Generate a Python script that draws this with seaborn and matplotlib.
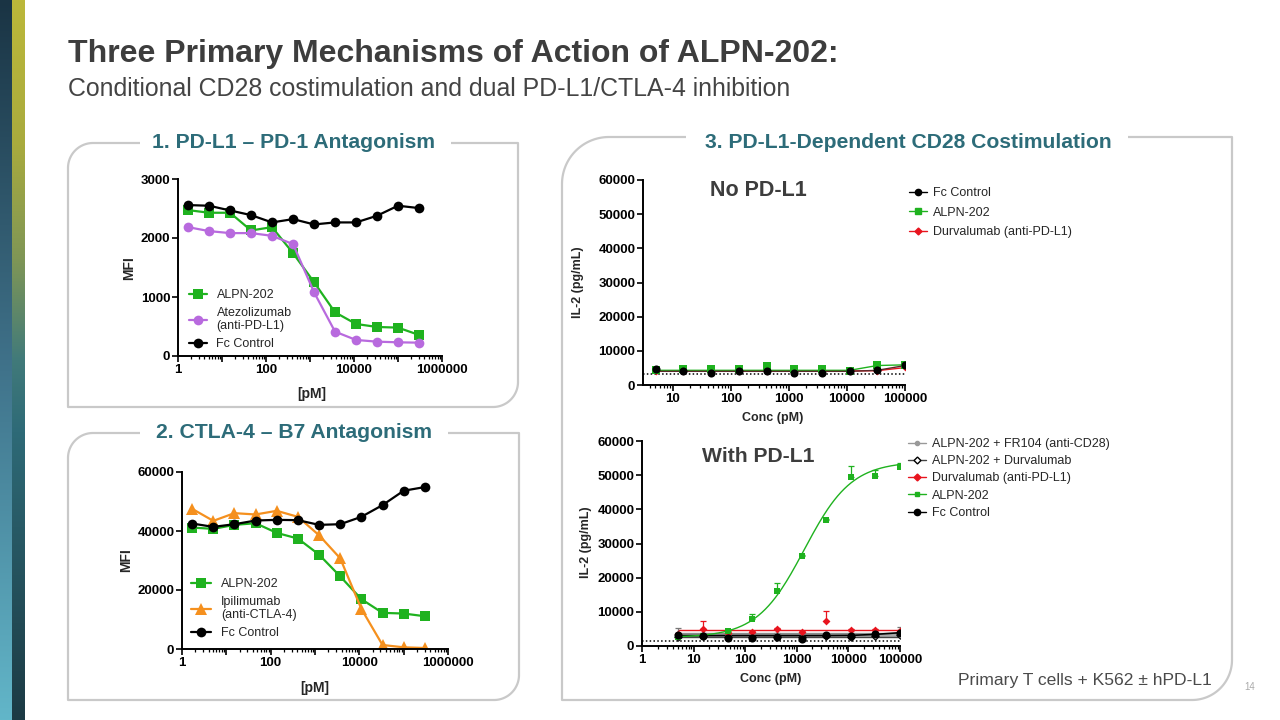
import numpy as np
import pandas as pd
import matplotlib
matplotlib.use("Agg")
import matplotlib.pyplot as plt
import seaborn as sns
from matplotlib.lines import Line2D
from matplotlib.colors import LinearSegmentedColormap
from matplotlib.ticker import FixedLocator, FuncFormatter, LogLocator, NullFormatter

# ---------------- DATA ----------------
conc_left = [1.69, 5.08, 15.2, 45.7, 137, 412, 1235, 3704, 11111, 33333, 100000, 300000]
pd1_alpn = [2473, 2428, 2428, 2128, 2184, 1743, 1251, 741, 543, 492, 481, 357]
pd1_atezo = [2184, 2117, 2083, 2083, 2037, 1896, 1081, 413, 272, 243, 232, 226]
pd1_fc = [2558, 2547, 2467, 2388, 2264, 2320, 2230, 2264, 2264, 2377, 2547, 2507]

ctla_alpn = [41170, 40720, 42080, 42640, 39360, 37430, 31990, 24620, 16900, 12250, 12020, 11110]
ctla_ipi = [47520, 43440, 46050, 45600, 46840, 44800, 38560, 30740, 13610, 1360, 570, 340]
ctla_fc = [42530, 41400, 42300, 43550, 43780, 43670, 42080, 42300, 44800, 48770, 53650, 54890]

conc_right = [5.08, 15.2, 45.7, 137, 412, 1235, 3704, 11111, 33333, 100000]

# No PD-L1
nopd_fc = [4760, 3980, 3390, 4090, 4090, 3390, 3490, 4090, 4380, 5840]
nopd_alpn = [4500, 4760, 4570, 4760, 5640, 4760, 4760, 4200, 5840, 5940]
nopd_durv = [4100, 4000, 3900, 4000, 4100, 3900, 4000, 4000, 4200, 5150]
nopd_fc_fit = [4000, 4000, 4000, 4000, 4000, 4000, 4000, 4000, 4300, 5700]
nopd_alpn_fit = [4300, 4300, 4300, 4300, 4300, 4300, 4300, 4300, 5700, 5900]
nopd_durv_fit = [4100, 4100, 4100, 4100, 4100, 4100, 4100, 4100, 4200, 5100]
nopd_baseline = 3300

# With PD-L1
pdl1_fr104 = [3500, 3400, 3300, 3400, 3500, 3400, 3600, 3500, 3700, 4300]
pdl1_fr104_err = [1800, 300, 300, 300, 300, 300, 300, 300, 300, 1300]
pdl1_alpn_durva = [2700, 2800, 2700, 2600, 2700, 2500, 2800, 2700, 2900, 3300]
pdl1_durv = [3600, 5000, 3800, 4020, 5000, 4220, 7340, 4810, 4810, 4400]
pdl1_durv_err = [300, 2340, 300, 300, 300, 300, 2930, 300, 300, 300]
pdl1_alpn = [2700, 3000, 4310, 7930, 16150, 26320, 36990, 49320, 49800, 52450]
pdl1_alpn_err = [0, 0, 300, 1370, 2150, 300, 300, 3500, 1570, 970]
pdl1_fc = [3340, 3050, 2350, 2350, 2640, 1960, 3340, 2840, 3640, 3910]
pdl1_fc_fit = [3050, 3050, 3050, 3050, 3050, 3050, 3050, 3100, 3400, 3900]
pdl1_durv_fit = [4600, 4600, 4600, 4600, 4600, 4600, 4600, 4600, 4600, 4600]
pdl1_fr104_fit = [3800, 3800, 3800, 3800, 3800, 3800, 3800, 3800, 3800, 3800]
pdl1_alpn_durva_fit = [2700, 2700, 2700, 2700, 2700, 2700, 2700, 2700, 2700, 2700]
pdl1_baseline = 1570
# 4PL fit parameters for ALPN-202 with PD-L1
fit_bottom, fit_top, fit_ec50, fit_hill = 2500, 54000, 1400, 0.95

# ---------------- STYLE ----------------
sns.set_theme(style="ticks")
plt.rcParams['font.family'] = ['Liberation Sans', 'DejaVu Sans']
plt.rcParams['font.weight'] = 'bold'
plt.rcParams['axes.labelweight'] = 'bold'

GREEN = '#1fb21f'
PURPLE = '#b86ade'
ORANGE = '#f5901e'
RED = '#e8141e'
TEAL = '#2d6c79'
GREY_TXT = '#3d3d3d'

W, H = 1280, 720
fig = plt.figure(figsize=(12.8, 7.2), dpi=100)
fig.patch.set_facecolor('white')
bg = fig.add_axes([0, 0, 1, 1], zorder=0)
bg.axis('off')


def grad(stops, n=256):
    cm = LinearSegmentedColormap.from_list('g', stops)
    return cm(np.linspace(0, 1, n))[:, None, :]


bg.imshow(grad([(0, '#1a3444'), (0.5, '#3f7189'), (1, '#62b6c9')]),
          extent=(0, 12, H, 0), aspect='auto', origin='upper')
bg.imshow(grad([(0, '#bcb83a'), (0.2, '#a9ab3e'), (0.36, '#7f9656'), (0.5, '#417a7a'),
                (0.6, '#2e6a77'), (1, '#1c3a44')]),
          extent=(12, 25, H, 0), aspect='auto', origin='upper')
bg.set_xlim(0, W)
bg.set_ylim(H, 0)


def leaf(x0, y0, x1, y1, r1, r2, gap):
    xs, ys = [gap[1], x1, x1], [y0, y0, y1 - r2]
    t = np.linspace(0, np.pi / 2, 30)
    xs += list(x1 - r2 + r2 * np.cos(t)); ys += list(y1 - r2 + r2 * np.sin(t))
    xs += [x0, x0]; ys += [y1, y0 + r1]
    t = np.linspace(np.pi, 1.5 * np.pi, 30)
    xs += list(x0 + r1 + r1 * np.cos(t)); ys += list(y0 + r1 + r1 * np.sin(t))
    xs += [gap[0]]; ys += [y0]
    bg.plot(xs, ys, color='#c9c9c9', lw=1.6, solid_capstyle='butt')


leaf(68, 143, 518, 407, 25, 25, (140, 451))
leaf(68, 433, 519, 700, 25, 25, (140, 448))
leaf(562, 137, 1232, 700, 47, 40, (686, 1128))

bg.text(68, 54, "Three Primary Mechanisms of Action of ALPN-202:", fontsize=23,
        fontweight='bold', color=GREY_TXT, va='center', ha='left')
bg.text(68, 89, "Conditional CD28 costimulation and dual PD-L1/CTLA-4 inhibition", fontsize=17.9,
        fontweight='normal', color='#444444', va='center', ha='left')
bg.text(294, 143, "1. PD-L1 – PD-1 Antagonism", fontsize=15.2, fontweight='bold',
        color=TEAL, va='center', ha='center')
bg.text(294, 432, "2. CTLA-4 – B7 Antagonism", fontsize=15.2, fontweight='bold',
        color=TEAL, va='center', ha='center')
bg.text(908, 142, "3. PD-L1-Dependent CD28 Costimulation", fontsize=15.2, fontweight='bold',
        color=TEAL, va='center', ha='center')
bg.text(1212, 681, "Primary T cells + K562 ± hPD-L1", fontsize=12.6, fontweight='normal',
        color='#4a4a4a', va='center', ha='right')
bg.text(1250, 687, "14", fontsize=7, fontweight='normal', color='#aaaaaa', va='center', ha='center')


def px_axes(l, t, r, b):
    ax = fig.add_axes([l / W, 1 - b / H, (r - l) / W, (b - t) / H], zorder=2)
    ax.set_facecolor('none')
    ax._px = (l, t, r, b)
    return ax


def label_at(ax, axis, x, y):
    l, t, r, b = ax._px
    getattr(ax, axis + 'axis').set_label_coords((x - l) / (r - l), (b - y) / (b - t))


def style(ax, xmin, xmax, ymax, ystep, xlabel_every2):
    ax.set_xscale('log')
    ax.set_xlim(xmin, xmax)
    ax.set_ylim(0, ymax)
    sns.despine(ax=ax)
    for s in ['left', 'bottom']:
        ax.spines[s].set_linewidth(1.4)
        ax.spines[s].set_color('black')
    ax.xaxis.set_major_locator(LogLocator(base=10, numticks=20))
    ax.xaxis.set_minor_locator(LogLocator(base=10, subs=np.arange(2, 10), numticks=100))
    ax.xaxis.set_minor_formatter(NullFormatter())
    if xlabel_every2:
        fmt = lambda v, p: f"{int(round(v))}" if int(round(np.log10(v))) % 2 == 0 else ""
    else:
        fmt = lambda v, p: f"{int(round(v))}"
    ax.xaxis.set_major_formatter(FuncFormatter(fmt))
    ax.yaxis.set_major_locator(FixedLocator(np.arange(0, ymax + 1, ystep)))
    ax.yaxis.set_major_formatter(FuncFormatter(lambda v, p: f"{int(v)}"))
    ax.tick_params(which='major', direction='out', length=4, width=1.2, labelsize=9.5,
                   pad=1.5, colors='black')
    ax.tick_params(which='minor', direction='out', length=2.5, width=0.9, colors='black')
    ax.grid(False)


# ---------------- Panel 1 ----------------
ax1 = px_axes(178, 179, 442, 356)
style(ax1, 1, 1e6, 3000, 1000, True)
lw, ms = 1.6, 6.5
sns.lineplot(x=conc_left, y=pd1_alpn, ax=ax1, color=GREEN, marker='s', markersize=ms,
             markeredgewidth=0, linewidth=lw, label='ALPN-202', sort=False, errorbar=None)
sns.lineplot(x=conc_left, y=pd1_atezo, ax=ax1, color=PURPLE, marker='o', markersize=ms + 0.5,
             markeredgewidth=0, linewidth=lw, label='Atezolizumab\n(anti-PD-L1)', sort=False, errorbar=None)
sns.lineplot(x=conc_left, y=pd1_fc, ax=ax1, color='black', marker='o', markersize=ms + 0.5,
             markeredgewidth=0, linewidth=lw, label='Fc Control', sort=False, errorbar=None)
ax1.set_xlabel('[pM]', fontsize=10)
ax1.set_ylabel('MFI', fontsize=10)
label_at(ax1, 'x', 312, 387)
label_at(ax1, 'y', 136, 268)
ax1.legend(loc='upper left', bbox_to_anchor=(189 / W, 1 - 289 / H), bbox_transform=fig.transFigure,
           frameon=False, borderpad=0, borderaxespad=0, handlelength=1.4, handletextpad=0.8,
           labelspacing=0.45, prop={'size': 9, 'weight': 'normal'})

# ---------------- Panel 2 ----------------
ax2 = px_axes(182, 472, 448, 649)
style(ax2, 1, 1e6, 60000, 20000, True)
sns.lineplot(x=conc_left, y=ctla_alpn, ax=ax2, color=GREEN, marker='s', markersize=ms,
             markeredgewidth=0, linewidth=lw, label='ALPN-202', sort=False, errorbar=None)
sns.lineplot(x=conc_left, y=ctla_ipi, ax=ax2, color=ORANGE, marker='^', markersize=ms + 1.5,
             markeredgewidth=0, linewidth=lw, label='Ipilimumab\n(anti-CTLA-4)', sort=False, errorbar=None)
sns.lineplot(x=conc_left, y=ctla_fc, ax=ax2, color='black', marker='o', markersize=ms + 0.5,
             markeredgewidth=0, linewidth=lw, label='Fc Control', sort=False, errorbar=None)
ax2.set_xlabel('[pM]', fontsize=10)
ax2.set_ylabel('MFI', fontsize=10)
label_at(ax2, 'x', 315, 681)
label_at(ax2, 'y', 133, 560)
ax2.legend(loc='upper left', bbox_to_anchor=(191 / W, 1 - 578 / H), bbox_transform=fig.transFigure,
           frameon=False, borderpad=0, borderaxespad=0, handlelength=1.6, handletextpad=0.8,
           labelspacing=0.45, prop={'size': 9, 'weight': 'normal'})

# ---------------- Panel 3a: No PD-L1 ----------------
ax3 = px_axes(643, 180, 905, 385)
style(ax3, 3.07, 1e5, 60000, 10000, False)
ax3.axhline(nopd_baseline, color='black', lw=1.1, ls=(0, (1, 1.5)))
sns.lineplot(x=conc_right, y=nopd_durv_fit, ax=ax3, color=RED, linewidth=1.0, errorbar=None)
sns.lineplot(x=conc_right, y=nopd_alpn_fit, ax=ax3, color=GREEN, linewidth=1.0, errorbar=None)
sns.lineplot(x=conc_right, y=nopd_fc_fit, ax=ax3, color='#5a2a2a', linewidth=1.0, errorbar=None)
sns.scatterplot(x=conc_right, y=nopd_durv, ax=ax3, color=RED, marker='D', s=16, linewidth=0, zorder=3)
sns.scatterplot(x=conc_right, y=nopd_alpn, ax=ax3, color=GREEN, marker='s', s=28, linewidth=0, zorder=3)
sns.scatterplot(x=conc_right, y=nopd_fc, ax=ax3, color='black', marker='o', s=34, linewidth=0, zorder=4)
ax3.set_xlabel('Conc (pM)', fontsize=9)
ax3.set_ylabel('IL-2 (pg/mL)', fontsize=9)
label_at(ax3, 'x', 773, 412)
label_at(ax3, 'y', 584, 282)
bg.text(758, 190, 'No PD-L1', fontsize=15.5, fontweight='bold', color=GREY_TXT, ha='center', va='center')
h3 = [Line2D([], [], color='black', marker='o', ms=4.5, lw=1),
      Line2D([], [], color=GREEN, marker='s', ms=4, lw=1),
      Line2D([], [], color=RED, marker='D', ms=3.5, lw=1)]
ax3.legend(h3, ['Fc Control', 'ALPN-202', 'Durvalumab (anti-PD-L1)'], loc='upper left',
           bbox_to_anchor=(909 / W, 1 - 187 / H), bbox_transform=fig.transFigure, frameon=False,
           borderpad=0, borderaxespad=0, handlelength=1.4, handletextpad=0.5, labelspacing=0.6,
           prop={'size': 9, 'weight': 'normal'})

# ---------------- Panel 3b: With PD-L1 ----------------
ax4 = px_axes(642, 441, 900, 646)
style(ax4, 1, 1e5, 60000, 10000, False)
ax4.axhline(pdl1_baseline, color='black', lw=1.1, ls=(0, (1, 1.5)))
ax4.fill_between(conc_right, pdl1_alpn_durva_fit, pdl1_fr104_fit, color='#a8a8a8', lw=0, zorder=1)
sns.lineplot(x=conc_right, y=pdl1_fr104_fit, ax=ax4, color='#8c8c8c', linewidth=1.0, errorbar=None)
sns.lineplot(x=conc_right, y=pdl1_alpn_durva_fit, ax=ax4, color='#444444', linewidth=1.0, errorbar=None)
sns.lineplot(x=conc_right, y=pdl1_durv_fit, ax=ax4, color=RED, linewidth=1.0, errorbar=None)
sns.lineplot(x=conc_right, y=pdl1_fc_fit, ax=ax4, color='black', linewidth=1.2, errorbar=None)
xfit = np.logspace(np.log10(conc_right[0]), np.log10(conc_right[-1]), 200)
yfit = fit_bottom + (fit_top - fit_bottom) / (1 + (fit_ec50 / xfit) ** fit_hill)
sns.lineplot(x=xfit, y=yfit, ax=ax4, color=GREEN, linewidth=1.0, errorbar=None)
zeros = [0] * len(conc_right)
ax4.errorbar(conc_right, pdl1_fr104, yerr=[zeros, pdl1_fr104_err], fmt='none', ecolor='#777777',
             elinewidth=0.9, capsize=2.5, capthick=0.9, zorder=3)
ax4.errorbar(conc_right, pdl1_durv, yerr=[zeros, pdl1_durv_err], fmt='none', ecolor=RED,
             elinewidth=0.9, capsize=2.5, capthick=0.9, zorder=3)
ax4.errorbar(conc_right, pdl1_alpn, yerr=[zeros, pdl1_alpn_err], fmt='none', ecolor=GREEN,
             elinewidth=0.9, capsize=2.5, capthick=0.9, zorder=3)
sns.scatterplot(x=conc_right, y=pdl1_fr104, ax=ax4, color='#999999', marker='o', s=12, linewidth=0, zorder=4)
sns.scatterplot(x=conc_right, y=pdl1_alpn_durva, ax=ax4, marker='D', s=14, facecolor='white',
                edgecolor='black', linewidth=0.8, zorder=4)
sns.scatterplot(x=conc_right, y=pdl1_durv, ax=ax4, color=RED, marker='D', s=16, linewidth=0, zorder=4)
sns.scatterplot(x=conc_right, y=pdl1_alpn, ax=ax4, color=GREEN, marker='s', s=24, linewidth=0, zorder=4)
sns.scatterplot(x=conc_right, y=pdl1_fc, ax=ax4, color='black', marker='o', s=34, linewidth=0, zorder=5)
ax4.set_xlabel('Conc (pM)', fontsize=9)
ax4.set_ylabel('IL-2 (pg/mL)', fontsize=9)
label_at(ax4, 'x', 771, 673)
label_at(ax4, 'y', 592, 542)
bg.text(758, 456, 'With PD-L1', fontsize=15.2, fontweight='bold', color=GREY_TXT, ha='center', va='center')
h4 = [Line2D([], [], color='#999999', marker='o', ms=3, lw=1),
      Line2D([], [], color='#444444', marker='D', ms=3.5, mfc='white', mec='black', lw=1),
      Line2D([], [], color=RED, marker='D', ms=3.5, lw=1),
      Line2D([], [], color=GREEN, marker='s', ms=3.5, lw=1),
      Line2D([], [], color='black', marker='o', ms=4.5, lw=1)]
ax4.legend(h4, ['ALPN-202 + FR104 (anti-CD28)', 'ALPN-202 + Durvalumab', 'Durvalumab (anti-PD-L1)',
                'ALPN-202', 'Fc Control'], loc='upper left',
           bbox_to_anchor=(908 / W, 1 - 438 / H), bbox_transform=fig.transFigure, frameon=False,
           borderpad=0, borderaxespad=0, handlelength=1.4, handletextpad=0.5, labelspacing=0.42,
           prop={'size': 9, 'weight': 'normal'})

fig.savefig('out.png', dpi=100, facecolor='white')
